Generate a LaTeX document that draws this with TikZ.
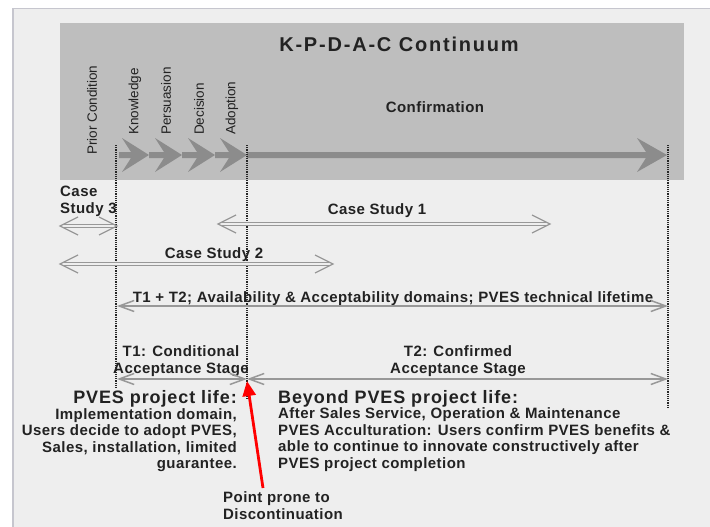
\documentclass[tikz,border=0pt]{standalone}
\usepackage{fontspec}
\setmainfont{Liberation Sans}
\newfontfamily\bodyf[LetterSpace=3]{Liberation Sans}
\newfontfamily\titlef[LetterSpace=9]{Liberation Sans}
\newfontfamily\headf[LetterSpace=5]{Liberation Sans}
\usetikzlibrary{arrows.meta,calc}
\definecolor{bg}{HTML}{EEEEEE}
\definecolor{boxg}{HTML}{BEBEBE}
\definecolor{chev}{HTML}{8C8C8C}
\definecolor{arrg}{HTML}{989898}
\definecolor{txt}{HTML}{222222}
\definecolor{framec}{HTML}{C6C6CE}
\newcommand\dblarr[2]{%
  \draw[dblline, shorten <=2pt, shorten >=2pt] (#1) -- (#2);
  \draw[dblhead] ($(#1)+(18,-9)$) -- (#1) -- ($(#1)+(18,9)$);
  \draw[dblhead] ($(#2)+(-18,-9)$) -- (#2) -- ($(#2)+(-18,9)$);}
\begin{document}
\begin{tikzpicture}[x=1pt,y=-1pt,
  body/.style={font=\bodyf\bfseries\fontsize{15}{16.5}\selectfont, text=txt, inner sep=0pt},
  head/.style={font=\headf\bfseries\fontsize{18}{20}\selectfont, text=txt, inner sep=0pt},
  title/.style={font=\titlef\bfseries\fontsize{20}{24}\selectfont, text=txt, inner sep=0pt},
  vlab/.style={font=\fontsize{13.5}{15}\selectfont, text=txt, inner sep=0pt, rotate=90, anchor=west},
  dotline/.style={black!85, line width=1.1pt, dash pattern=on 1.1pt off 1.1pt},
  dblline/.style={draw=arrg, double=bg, double distance=1.8pt, line width=1.2pt},
  dblhead/.style={arrg, line width=1.3pt},
  sarrow/.style={arrg, line width=1.5pt, {Straight Barb[length=15pt,width=11pt]}-{Straight Barb[length=15pt,width=11pt]}},
  redarrow/.style={red, line width=2.8pt, -{Triangle[length=15pt,width=13pt]}}
]
\useasboundingbox (0,0) rectangle (710,527);
\clip (0,0) rectangle (710,527);
\fill[white] (0,0) rectangle (710,527);
\fill[bg] (12,8) rectangle (716,533);
\draw[framec, line width=1.5pt] (12.75,533) -- (12.75,8.75) -- (716,8.75);
\fill[boxg] (60,23) rectangle (684,180);

% title and stage labels
\node[title, anchor=base] (title) at (399,52) {K-P-D-A-C Continuum};
\node[vlab] (prior) at (92,155) {Prior Condition};
\node[vlab] (know) at (135,135) {Knowledge};
\node[vlab] (pers) at (166,135) {Persuasion};
\node[vlab] (deci) at (199,135) {Decision};
\node[vlab] (adop) at (232,135) {Adoption};
\node[body, anchor=base] (conf) at (435,112) {Confirmation};

% chevrons
\foreach \s/\t in {119/149,149/182,182/215,215/247}
  \fill[chev] (\s,152) -- (\t-18,152) -- (\t-27,138) -- (\t,155) -- (\t-27,172) -- (\t-18,158) -- (\s,158) -- cycle;
\fill[chev] (247,152) -- (646,152) -- (637,138) -- (667,155) -- (637,172) -- (646,158) -- (247,158) -- cycle;

% dotted guide lines
\coordinate (d1t) at (116,145); \coordinate (d1b) at (116,388);
\coordinate (d2t) at (247,145); \coordinate (d2b) at (247,400);
\coordinate (d3t) at (668,145); \coordinate (d3b) at (668,408);
\draw[dotline] (d1t) -- (d1b);
\draw[dotline] (d2t) -- (d2b);
\draw[dotline] (d3t) -- (d3b);

% case studies
\node[body, anchor=base west, align=left] (cs3) at (60,213) {Case\\Study 3};
\coordinate (cs3a) at (60,226); \coordinate (cs3b) at (117,226);
\dblarr{cs3a}{cs3b}
\node[body, anchor=base] (cs1) at (377,214) {Case Study 1};
\coordinate (cs1a) at (218,224); \coordinate (cs1b) at (550,224);
\dblarr{cs1a}{cs1b}
\node[body, anchor=base] (cs2) at (214,258) {Case Study 2};
\coordinate (cs2a) at (60,264); \coordinate (cs2b) at (333,264);
\dblarr{cs2a}{cs2b}

% T1 + T2
\node[body, anchor=base] (tt) at (393,302) {T1 + T2; Availability \& Acceptability domains; PVES technical lifetime};
\coordinate (tta) at (117,306); \coordinate (ttb) at (668,306);
\draw[sarrow] (tta) -- (ttb);

\node[body, anchor=base, align=center] (t1) at (181,373) {T1: Conditional\\Acceptance Stage};
\node[body, anchor=base, align=center] (t2) at (458,373) {T2: Confirmed\\Acceptance Stage};
\coordinate (t1a) at (117,379); \coordinate (mid) at (247,379); \coordinate (t2b) at (668,379);
\draw[sarrow] (t1a) -- (mid);
\draw[sarrow] (mid) -- (t2b);

% project life texts
\node[head, anchor=base east] (plh) at (237,403) {PVES project life:};
\node[body, anchor=base east, align=right] (plb) at (237,468.5) {Implementation domain,\\Users decide to adopt PVES,\\Sales, installation, limited\\guarantee.};
\node[head, anchor=base west] (bph) at (278,403) {Beyond PVES project life:};
\node[body, anchor=base west, align=left] (bpb) at (278,468) {After Sales Service, Operation \& Maintenance\\PVES Acculturation: Users confirm PVES benefits \&\\able to continue to innovate constructively after\\PVES project completion};

% discontinuation point
\node[body, anchor=base west, align=left] (disc) at (223,519) {Point prone to\\Discontinuation};
\coordinate (redtail) at (263,488); \coordinate (redtip) at (247,381);
\draw[redarrow] (redtail) -- (redtip);
\end{tikzpicture}
\end{document}
